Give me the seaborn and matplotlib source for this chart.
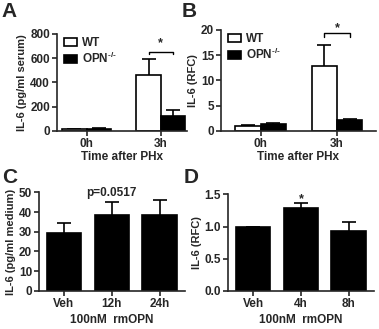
import matplotlib
matplotlib.use('Agg')
from matplotlib import pyplot as plt
import pandas as pd
import seaborn as sns

# values
groups_ab = ['0h', '3h']
a_wt = [12, 458]
a_wt_err = [3, 135]
a_opn = [20, 122]
a_opn_err = [4, 48]

b_wt = [1.0, 12.8]
b_wt_err = [0.1, 4.2]
b_opn = [1.4, 2.2]
b_opn_err = [0.2, 0.2]

c_labels = ['Veh', '12h', '24h']
c_vals = [29.5, 38.5, 38.7]
c_err = [5.2, 6.8, 7.5]

d_labels = ['Veh', '4h', '8h']
d_vals = [1.0, 1.29, 0.925]
d_err = [0.0, 0.08, 0.15]

sns.set_style('ticks')
plt.rcParams['font.family'] = ['Liberation Sans', 'DejaVu Sans']
plt.rcParams['font.weight'] = 'bold'
plt.rcParams['axes.labelweight'] = 'bold'
plt.rcParams['mathtext.fontset'] = 'custom'
plt.rcParams['mathtext.bf'] = 'Liberation Sans:bold'
plt.rcParams['mathtext.rm'] = 'Liberation Sans:bold'
plt.rcParams['mathtext.default'] = 'bf'

fig = plt.figure(figsize=(3.79, 3.29), dpi=100)
axA = fig.add_axes([0.150, 0.602, 0.343, 0.295])
axB = fig.add_axes([0.583, 0.602, 0.409, 0.307])
axC = fig.add_axes([0.103, 0.116, 0.385, 0.299])
axD = fig.add_axes([0.602, 0.116, 0.385, 0.293])

LW = 1.2
pal = {'WT': 'white', 'OPN-/-': 'black'}


def style(ax):
    sns.despine(ax=ax)
    for s in ['left', 'bottom']:
        ax.spines[s].set_linewidth(LW)
    ax.tick_params(axis='both', width=LW, length=3.5, labelsize=8.5, pad=1.5)
    for t in ax.get_xticklabels() + ax.get_yticklabels():
        t.set_fontweight('bold')


def grouped(ax, wt, wt_err, opn, opn_err):
    df = pd.DataFrame({
        'time': groups_ab * 2,
        'geno': ['WT'] * 2 + ['OPN-/-'] * 2,
        'val': wt + opn,
        'err': wt_err + opn_err,
    })
    sns.barplot(data=df, x='time', y='val', hue='geno', palette=pal,
                width=0.66, edgecolor='black', linewidth=LW,
                errorbar=None, ax=ax, zorder=2)
    # error bars at the bar centres
    for cont, e in zip(ax.containers, [wt_err, opn_err]):
        xs = [p.get_x() + p.get_width() / 2 for p in cont.patches]
        ys = [p.get_height() for p in cont.patches]
        ax.errorbar(xs, ys, yerr=e, fmt='none', ecolor='black',
                    elinewidth=LW, capsize=5, capthick=LW, zorder=1)
    h, _ = ax.get_legend_handles_labels()
    ax.legend(h, ['WT', r'OPN$^{\text{-/-}}$'], loc='upper left',
              bbox_to_anchor=(0.0, 1.04), frameon=False,
              prop={'size': 8.5, 'weight': 'bold'},
              handlelength=1.1, handleheight=0.75, handletextpad=0.4,
              labelspacing=0.15, borderaxespad=0.2)
    ax.set_xlabel('Time after PHx', fontsize=8.5, labelpad=1)


def bracket(ax, y, dy, ystar):
    x1, x2 = 1 - 0.165, 1 + 0.165
    ax.plot([x1, x1, x2, x2], [y - dy, y, y, y - dy], color='black',
            lw=1.0, clip_on=False)
    ax.text(1, ystar, '*', ha='center', va='center', fontsize=9,
            fontweight='bold')


# A
grouped(axA, a_wt, a_wt_err, a_opn, a_opn_err)
axA.set_ylim(0, 800)
axA.set_yticks([0, 200, 400, 600, 800])
axA.set_xlim(-0.4, 1.35)
axA.set_ylabel('IL-6 (pg/ml serum)', fontsize=8, labelpad=2)
bracket(axA, 653, 22, 725)
style(axA)

# B
grouped(axB, b_wt, b_wt_err, b_opn, b_opn_err)
axB.set_ylim(0, 20)
axB.set_yticks([0, 5, 10, 15, 20])
axB.set_xlim(-0.52, 1.51)
axB.set_ylabel('IL-6 (RFC)', fontsize=8, labelpad=2)
bracket(axB, 19.3, 0.6, 20.4)
style(axB)


def single(ax, labels, vals, err):
    df = pd.DataFrame({'cond': labels, 'val': vals})
    sns.barplot(data=df, x='cond', y='val', color='black', width=0.72,
                edgecolor='black', linewidth=LW, errorbar=None, ax=ax,
                zorder=2)
    ax.errorbar(range(len(vals)), vals, yerr=err, fmt='none',
                ecolor='black', elinewidth=LW, capsize=5, capthick=LW,
                zorder=1)
    ax.set_xlim(-0.52, len(vals) - 0.47)
    ax.set_xlabel('100nM  rmOPN', fontsize=8.5, labelpad=3)


# C
single(axC, c_labels, c_vals, c_err)
axC.set_ylim(0, 50)
axC.set_yticks([0, 10, 20, 30, 40, 50])
axC.set_ylabel('IL-6 (pg/ml medium)', fontsize=8, labelpad=2)
axC.text(1, 49.8, 'p=0.0517', ha='center', va='center', fontsize=8.5,
         fontweight='bold')
style(axC)

# D
single(axD, d_labels, d_vals, d_err)
axD.set_ylim(0, 1.5)
axD.set_yticks([0.0, 0.5, 1.0, 1.5])
axD.set_yticklabels(['0.0', '0.5', '1.0', '1.5'])
axD.set_ylabel('IL-6 (RFC)', fontsize=8, labelpad=2)
axD.text(1, 1.43, '*', ha='center', va='center', fontsize=9,
         fontweight='bold')
style(axD)

for lab, x, y in [('A', 0.005, 0.995), ('B', 0.478, 0.995),
                  ('C', 0.005, 0.49), ('D', 0.485, 0.49)]:
    fig.text(x, y, lab, fontsize=15, fontweight='bold', va='top', ha='left')

fig.savefig('out.png', dpi=100)
